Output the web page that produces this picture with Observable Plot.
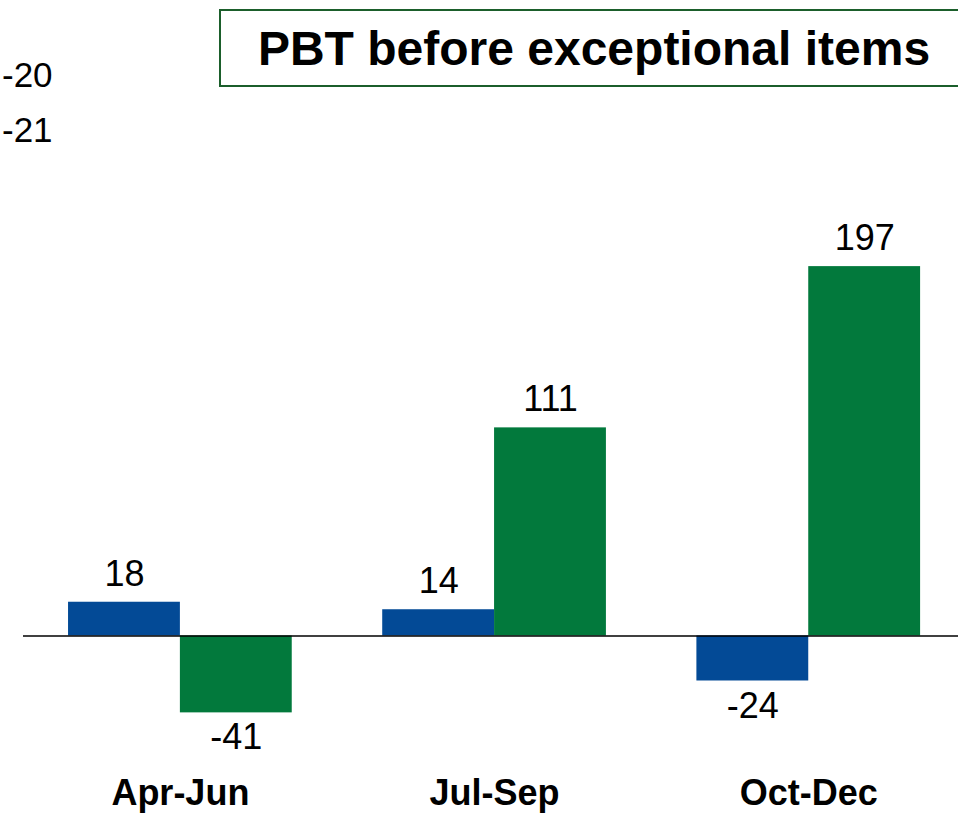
<!DOCTYPE html>
<html>
<head>
<meta charset="utf-8">
<script src="https://cdn.jsdelivr.net/npm/d3@7"></script>
<script src="https://cdn.jsdelivr.net/npm/@observablehq/plot@0.6"></script>
<style>
  html, body { margin: 0; padding: 0; background: #fff; }
  body { width: 958px; height: 813px; overflow: hidden; position: relative;
         font-family: Arial, "Liberation Sans", sans-serif; }
  #title { position: absolute; left: 219px; top: 9px; width: 750px; height: 78px;
           box-sizing: border-box; border: 2px solid #1b5e2b; display: flex;
           align-items: center; justify-content: center; font-size: 48px;
           font-weight: bold; color: #000; background: #fff; white-space: nowrap; }
  .legend { position: absolute; left: 2px; font-size: 35px; line-height: 35px; color: #000; }
  #chart { position: absolute; left: 0; top: 0; }
</style>
</head>
<body>
<div id="chart"></div>
<div id="title"></div>
<div id="leg0" class="legend" style="top:57px"></div>
<div id="leg1" class="legend" style="top:112px"></div>
<script>
const titleText = "PBT before exceptional items";
const quarters = ["Apr-Jun", "Jul-Sep", "Oct-Dec"];
const seriesNames = ["-20", "-21"];
const valuesA = [18, 14, -24];
const valuesB = [-41, 111, 197];
const seriesColors = ["#034a96", "#02793c"];

const dataA = quarters.map((q, i) => ({quarter: q, series: seriesNames[0], value: valuesA[i]}));
const dataB = quarters.map((q, i) => ({quarter: q, series: seriesNames[1], value: valuesB[i]}));

document.getElementById("title").textContent = titleText;
document.getElementById("leg0").textContent = seriesNames[0];
document.getElementById("leg1").textContent = seriesNames[1];

const W = 958, H = 813, mL = 23, mR = 0, mT = 0, mB = 60;
const xOpts = {paddingInner: 0.288, paddingOuter: 0.132, align: 0.543};
const half = d3.scaleBand().domain(quarters).range([mL, W - mR])
  .paddingInner(xOpts.paddingInner).paddingOuter(xOpts.paddingOuter).align(xOpts.align)
  .bandwidth() / 2;

const labelOpts = (data, side) => [
  Plot.text(data.filter(d => d.value >= 0), {x: "quarter", y: "value", text: d => String(d.value), dx: side * half / 2, dy: -28, fontSize: 36, fill: "#000"}),
  Plot.text(data.filter(d => d.value < 0), {x: "quarter", y: "value", text: d => String(d.value), dx: side * half / 2, dy: 25, fontSize: 36, fill: "#000"})
];

const chart = Plot.plot({
  width: W,
  height: H,
  marginLeft: mL,
  marginRight: mR,
  marginTop: mT,
  marginBottom: mB,
  style: {fontFamily: "Arial, 'Liberation Sans', sans-serif", background: "#fff", color: "#000"},
  x: {domain: quarters, ...xOpts, round: false, label: null},
  y: {domain: [-62.67, 338.93], axis: null},
  color: {domain: seriesNames, range: seriesColors},
  marks: [
    Plot.barY(dataA, {x: "quarter", y: "value", fill: "series", insetRight: half}),
    Plot.barY(dataB, {x: "quarter", y: "value", fill: "series", insetLeft: half}),
    Plot.ruleY([0], {stroke: "#000", strokeWidth: 1.6}),
    ...labelOpts(dataA, -1),
    ...labelOpts(dataB, 1),
    Plot.axisX({tickSize: 0, tickPadding: 26, fontSize: 36, fontWeight: "bold", label: null})
  ]
});
document.getElementById("chart").appendChild(chart);
</script>
</body>
</html>
